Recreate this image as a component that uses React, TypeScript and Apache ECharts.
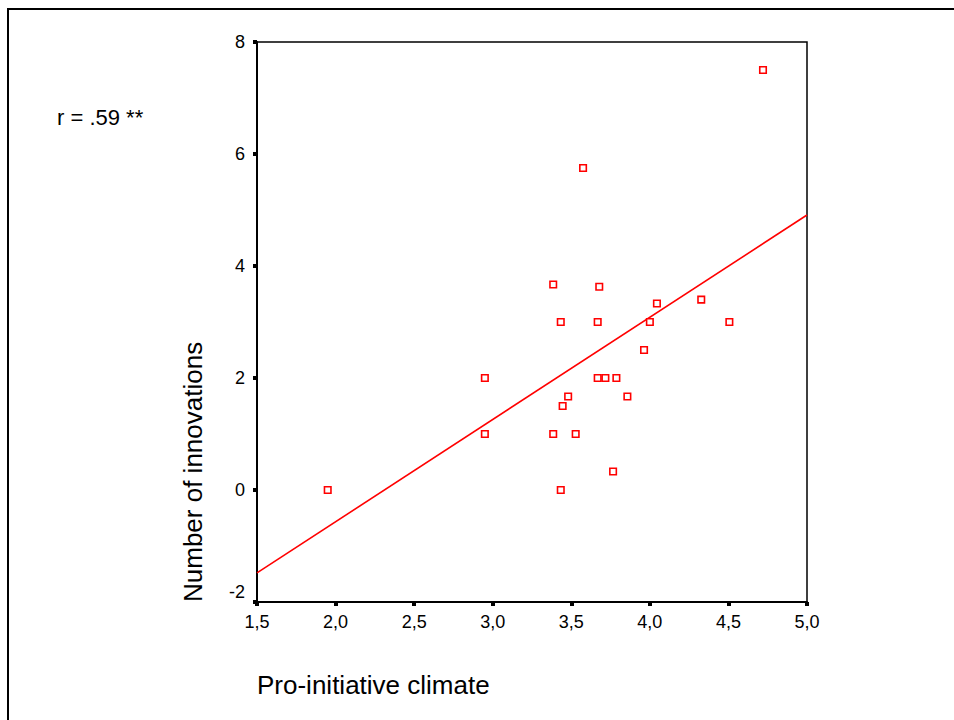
import React, { useEffect, useRef } from "react";
import * as echarts from "echarts";

const climate = [1.95, 2.95, 2.95, 3.385, 3.433, 3.385, 3.433, 3.445, 3.48, 3.528, 3.575, 3.678, 3.668, 3.668, 3.717, 3.787, 3.766, 3.857, 3.963, 4.0, 4.045, 4.327, 4.506, 4.72];
const innovations = [0, 2, 1, 3.67, 3, 1, 0, 1.5, 1.67, 1, 5.75, 3.63, 3, 2, 2, 2, 0.33, 1.67, 2.5, 3, 3.33, 3.4, 3, 7.5];

const fitX = [1.5, 5.0];
const fitY = [-1.48, 4.91];

const xTicks = [1.5, 2.0, 2.5, 3.0, 3.5, 4.0, 4.5, 5.0];
const xTickLabels = ["1,5", "2,0", "2,5", "3,0", "3,5", "4,0", "4,5", "5,0"];
const yTicks = [-2, 0, 2, 4, 6, 8];
const yTickLabels = ["-2", "0", "2", "4", "6", "8"];

const xTitle = "Pro-initiative climate";
const yTitle = "Number of innovations";
const corrText = "r = .59 **";

const FONT = "'Liberation Sans', Arial, sans-serif";

export default function App() {
  const ref = useRef<HTMLDivElement>(null);

  useEffect(() => {
    if (!ref.current) return;
    const chart = echarts.init(ref.current, null, { renderer: "svg" });
    const points = climate.map((x, i) => [x, innovations[i]]);
    const fit = fitX.map((x, i) => [x, fitY[i]]);

    chart.setOption({
      animation: false,
      backgroundColor: "#fff",
      grid: {
        left: 257,
        top: 42,
        width: 550,
        height: 560,
        show: true,
        borderColor: "#000",
        borderWidth: 1.5,
        backgroundColor: "transparent",
      },
      xAxis: {
        type: "value",
        min: 1.5,
        max: 5.0,
        interval: 0.5,
        axisLine: { show: true, onZero: false, lineStyle: { color: "#000", width: 2 } },
        axisTick: { show: true, inside: false, length: 4, lineStyle: { color: "#000", width: 4 } },
        splitLine: { show: false },
        axisLabel: {
          margin: 11,
          color: "#000",
          fontSize: 18,
          fontFamily: FONT,
          formatter: (v: number) => {
            const idx = xTicks.findIndex((t) => Math.abs(t - v) < 1e-6);
            return idx >= 0 ? xTickLabels[idx] : "";
          },
        },
      },
      yAxis: {
        type: "value",
        min: -2,
        max: 8,
        interval: 2,
        axisLine: { show: true, onZero: false, lineStyle: { color: "#000", width: 2 } },
        axisTick: { show: true, inside: false, length: 4, lineStyle: { color: "#000", width: 4 } },
        splitLine: { show: false },
        axisLabel: {
          margin: 12,
          color: "#000",
          fontSize: 18,
          fontFamily: FONT,
          formatter: (v: number) => {
            const idx = yTicks.findIndex((t) => Math.abs(t - v) < 1e-6);
            if (idx < 0) return "";
            return idx === 0 ? "{low|" + yTickLabels[idx] + "}" : yTickLabels[idx];
          },
          rich: {
            low: { fontSize: 18, fontFamily: FONT, color: "#000", padding: [0, 0, 20, 0] },
          },
        },
      },
      graphic: [
        {
          type: "rect",
          silent: true,
          shape: { x: 8, y: 9, width: 1000, height: 800 },
          style: { fill: "none", stroke: "#000", lineWidth: 2 },
          z: 100,
        },
        {
          type: "text",
          x: 57,
          y: 117,
          style: { text: corrText, fontSize: 22, fontFamily: FONT, fill: "#000", textVerticalAlign: "middle", textAlign: "left" },
        },
        {
          type: "text",
          x: 257,
          y: 685,
          style: { text: xTitle, fontSize: 26, fontFamily: FONT, fill: "#000", textVerticalAlign: "middle", textAlign: "left" },
        },
        {
          type: "text",
          x: 193,
          y: 602,
          rotation: Math.PI / 2,
          style: { text: yTitle, fontSize: 26, fontFamily: FONT, fill: "#000", textVerticalAlign: "middle", textAlign: "left" },
        },
      ],
      series: [
        {
          type: "line",
          data: fit,
          showSymbol: false,
          symbol: "none",
          lineStyle: { color: "#ff0000", width: 1.6 },
          clip: true,
          silent: true,
          z: 2,
        },
        {
          type: "scatter",
          data: points,
          symbol: "rect",
          symbolSize: 6.5,
          itemStyle: { color: "#fff", borderColor: "#ff0000", borderWidth: 1.6, opacity: 1 },
          z: 3,
        },
      ],
    });

    return () => chart.dispose();
  }, []);

  return (
    <div
      ref={ref}
      style={{ position: "fixed", left: 0, top: 0, width: 954, height: 720, background: "#fff" }}
    />
  );
}
